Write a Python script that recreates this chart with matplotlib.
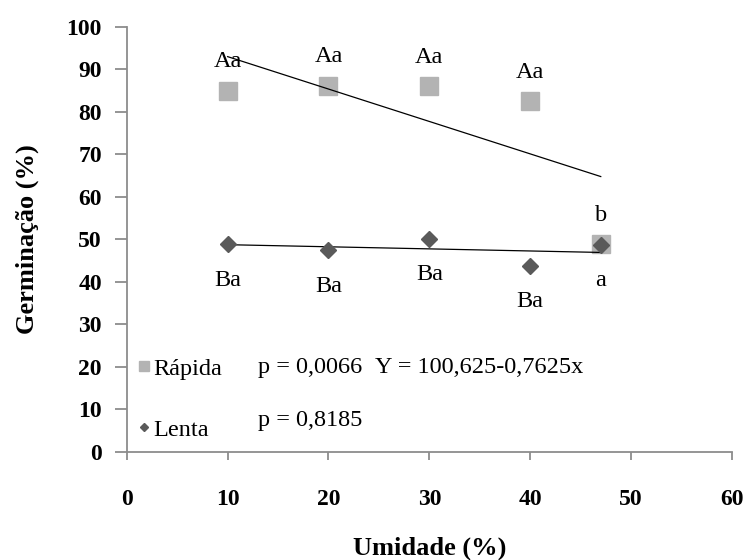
import numpy as np
import matplotlib
matplotlib.use("Agg")
import matplotlib.pyplot as plt
from matplotlib.lines import Line2D

# ---- data ----
umidade = [10, 20, 30, 40, 47]
rapida = [85.0, 86.1, 86.0, 82.5, 48.9]
lenta = [48.9, 47.5, 50.1, 43.8, 48.7]
rapida_letters = ["Aa", "Aa", "Aa", "Aa", "b"]
lenta_letters = ["Ba", "Ba", "Ba", "Ba", "a"]
rapida_coef = (100.625, -0.7625)   # Y = a + b x
rapida_p = "p = 0,0066"
rapida_eq = "Y = 100,625-0,7625x"
lenta_p = "p = 0,8185"
x_ticks = [0, 10, 20, 30, 40, 50, 60]
y_ticks = [0, 10, 20, 30, 40, 50, 60, 70, 80, 90, 100]

SERIF = "Liberation Serif"
C_RAP = "#b3b3b3"
C_LEN = "#5a5a5a"
FS_TXT = 17.5
FS_TICK = 17
FS_LAB = 19

fig = plt.figure(figsize=(7.46, 5.6), dpi=100)
ax = fig.add_axes([0.170, 0.193, 0.811, 0.759])

x = np.array(umidade, dtype=float)
xr = np.array([x.min(), x.max()])

# markers
ax.plot(x, rapida, ls="none", marker="s", ms=13.5, color=C_RAP, zorder=2)
ax.plot(x, lenta, ls="none", marker="D", ms=8.5, color=C_LEN, zorder=4)

# trend lines
ax.plot(xr, rapida_coef[0] + rapida_coef[1] * xr, color="black", lw=0.9, zorder=3)
cl = np.polyfit(x, lenta, 1)
ax.plot(xr, np.polyval(cl, xr), color="black", lw=0.9, zorder=3)

# letters
for xi, yi, t in zip(x, rapida, rapida_letters):
    ax.annotate(t, (xi, yi), xytext=(0, 29), textcoords="offset pixels",
                ha="center", va="center", fontfamily=SERIF, fontsize=FS_TXT)
for xi, yi, t in zip(x, lenta, lenta_letters):
    ax.annotate(t, (xi, yi), xytext=(0, -36), textcoords="offset pixels",
                ha="center", va="center", fontfamily=SERIF, fontsize=FS_TXT)

# statistics text
ax.text(13.0, 19.8, rapida_p, ha="left", va="center", fontfamily=SERIF, fontsize=FS_TXT)
ax.text(24.6, 19.8, rapida_eq, ha="left", va="center", fontfamily=SERIF, fontsize=FS_TXT)
ax.text(13.0, 7.3, lenta_p, ha="left", va="center", fontfamily=SERIF, fontsize=FS_TXT)

# legend
handles = [Line2D([], [], ls="none", marker="s", ms=7, color=C_RAP),
           Line2D([], [], ls="none", marker="D", ms=4.5, color=C_LEN)]
leg = ax.legend(handles, ["Rápida", "Lenta"], loc="lower left",
                bbox_to_anchor=(-0.006, -0.008), frameon=False, borderpad=0.1,
                handlelength=0.5, handletextpad=0.15, labelspacing=1.6,
                prop={"family": SERIF, "size": FS_TXT})

# axes
ax.set_xlim(0, 60)
ax.set_ylim(0, 100)
ax.set_xticks(x_ticks)
ax.set_yticks(y_ticks)
for s in ("top", "right"):
    ax.spines[s].set_visible(False)
for s in ("left", "bottom"):
    ax.spines[s].set_color("#8c8c8c")
    ax.spines[s].set_linewidth(1.3)
ax.tick_params(axis="x", direction="out", length=6, width=1.3, color="#8c8c8c", pad=21)
ax.tick_params(axis="y", direction="out", length=9, width=1.3, color="#8c8c8c", pad=9)
for lab in ax.get_xticklabels() + ax.get_yticklabels():
    lab.set_fontfamily(SERIF)
    lab.set_fontweight("bold")
    lab.set_fontsize(FS_TICK)

ax.set_ylabel("Germinação (%)", fontfamily=SERIF, fontweight="bold", fontsize=FS_LAB)
ax.set_xlabel("Umidade (%)", fontfamily=SERIF, fontweight="bold", fontsize=FS_LAB)
ax.yaxis.set_label_coords(-0.145, 0.5)
ax.xaxis.set_label_coords(0.5, -0.2)

fig.savefig("out.png", dpi=100)
